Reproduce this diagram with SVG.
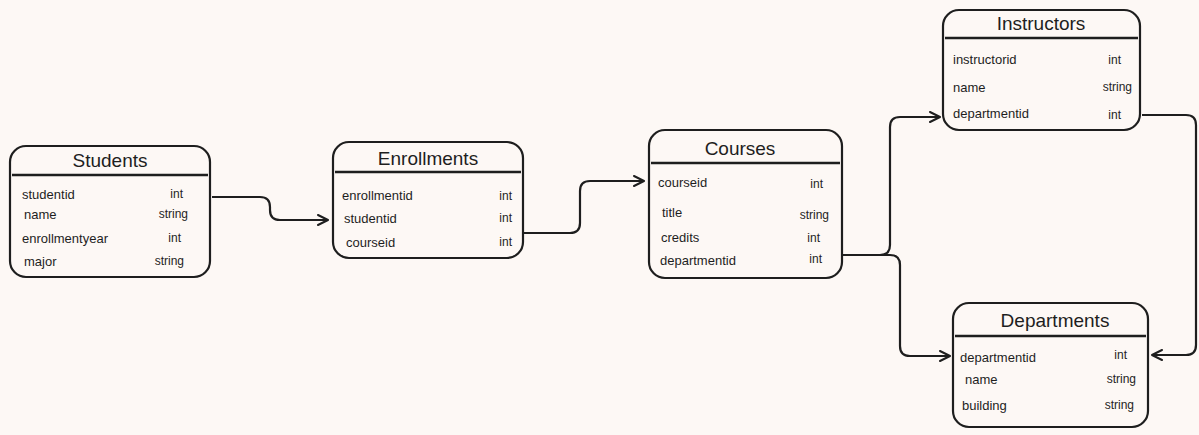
<svg xmlns="http://www.w3.org/2000/svg" width="1199" height="435" viewBox="0 0 1199 435">
<defs>
<marker id="ah" viewBox="0 0 12 12" refX="11" refY="6" markerWidth="12" markerHeight="12" markerUnits="userSpaceOnUse" orient="auto">
<path d="M1,1 L11,6 L1,11" fill="none" stroke="#1e1e1e" stroke-width="2" stroke-linecap="round" stroke-linejoin="round"/>
</marker>
<style>
.box{fill:none;stroke:#1e1e1e;stroke-width:2.2}
.sep{stroke:#1e1e1e;stroke-width:2.5}
.t{font-family:"Liberation Sans",sans-serif;font-size:19px;fill:#1e1e1e;text-anchor:middle}
.f{font-family:"Liberation Sans",sans-serif;font-size:13px;fill:#1e1e1e}
.v{font-family:"Liberation Sans",sans-serif;font-size:12px;fill:#1e1e1e;text-anchor:end}
.c{fill:none;stroke:#1e1e1e;stroke-width:2.2;marker-end:url(#ah)}
</style>
</defs>
<rect width="1199" height="435" fill="#fdf8f5"/>
<g id="connectors">
<path class="c" d="M212,197 H260 Q270,197 270,207 V210 Q270,220 280,220 H328"/>
<path class="c" d="M522,233 H570 Q580,233 580,223 V191 Q580,181 590,181 H644"/>
<path class="c" d="M842,255 H880 Q890,255 890,245 V127 Q890,117 900,117 H940"/>
<path class="c" d="M842,255 H890 Q900,255 900,265 V346 Q900,356 910,356 H950"/>
<path class="c" d="M1142,115 H1186 Q1196,115 1196,125 V345 Q1196,355 1186,355 H1152"/>
</g>
<g id="students">
<rect class="box" x="10" y="146" width="200" height="131" rx="16"/>
<line class="sep" x1="12" y1="175" x2="208" y2="175"/>
<text class="t" x="110" y="167">Students</text>
<text class="f" x="22" y="199">studentid</text><text class="v" x="183" y="198">int</text>
<text class="f" x="24" y="219">name</text><text class="v" x="188" y="218">string</text>
<text class="f" x="22" y="243">enrollmentyear</text><text class="v" x="181" y="242">int</text>
<text class="f" x="24" y="266">major</text><text class="v" x="184" y="265">string</text>
</g>
<g id="enrollments">
<rect class="box" x="333" y="142" width="190" height="116" rx="16"/>
<line class="sep" x1="335" y1="172" x2="521" y2="172"/>
<text class="t" x="428" y="165">Enrollments</text>
<text class="f" x="342" y="200">enrollmentid</text><text class="v" x="512" y="200">int</text>
<text class="f" x="344" y="223">studentid</text><text class="v" x="512" y="222">int</text>
<text class="f" x="346" y="247">courseid</text><text class="v" x="512" y="246">int</text>
</g>
<g id="courses">
<rect class="box" x="649" y="130" width="193" height="148" rx="16"/>
<line class="sep" x1="651" y1="163" x2="840" y2="163"/>
<text class="t" x="740" y="155">Courses</text>
<text class="f" x="658" y="187">courseid</text><text class="v" x="823" y="188">int</text>
<text class="f" x="662" y="217">title</text><text class="v" x="829" y="219">string</text>
<text class="f" x="661" y="242">credits</text><text class="v" x="820" y="242">int</text>
<text class="f" x="660" y="265">departmentid</text><text class="v" x="822" y="263">int</text>
</g>
<g id="instructors">
<rect class="box" x="943" y="10" width="197" height="120" rx="16"/>
<line class="sep" x1="945" y1="38" x2="1138" y2="38"/>
<text class="t" x="1041" y="30">Instructors</text>
<text class="f" x="953" y="64">instructorid</text><text class="v" x="1121" y="64">int</text>
<text class="f" x="953" y="92">name</text><text class="v" x="1132" y="91">string</text>
<text class="f" x="953" y="118">departmentid</text><text class="v" x="1121" y="119">int</text>
</g>
<g id="departments">
<rect class="box" x="953" y="303" width="195" height="124" rx="16"/>
<line class="sep" x1="955" y1="336" x2="1146" y2="336"/>
<text class="t" x="1055" y="327">Departments</text>
<text class="f" x="960" y="362">departmentid</text><text class="v" x="1127" y="359">int</text>
<text class="f" x="965" y="384">name</text><text class="v" x="1136" y="383">string</text>
<text class="f" x="962" y="410">building</text><text class="v" x="1134" y="409">string</text>
</g>
</svg>
